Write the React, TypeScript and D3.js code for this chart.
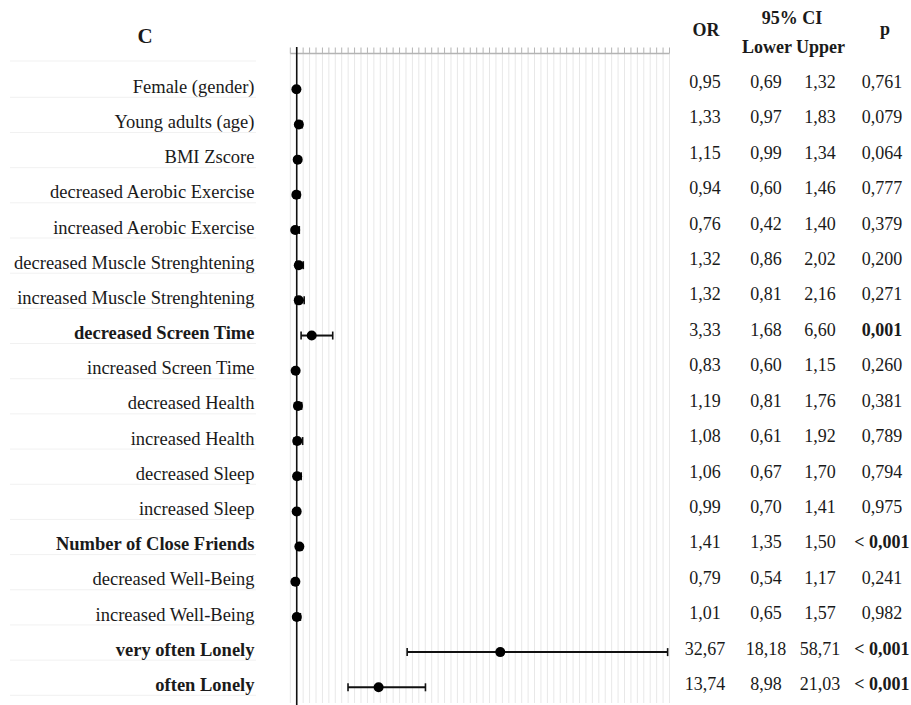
import React from "react";
import * as d3 from "d3";

const labels = [
  "Female (gender)",
  "Young adults (age)",
  "BMI Zscore",
  "decreased Aerobic Exercise",
  "increased Aerobic Exercise",
  "decreased Muscle Strenghtening",
  "increased Muscle Strenghtening",
  "decreased Screen Time",
  "increased Screen Time",
  "decreased Health",
  "increased Health",
  "decreased Sleep",
  "increased Sleep",
  "Number of Close Friends",
  "decreased Well-Being",
  "increased Well-Being",
  "very often Lonely",
  "often Lonely",
];
const orValues = [0.95, 1.33, 1.15, 0.94, 0.76, 1.32, 1.32, 3.33, 0.83, 1.19, 1.08, 1.06, 0.99, 1.41, 0.79, 1.01, 32.67, 13.74];
const lowerValues = [0.69, 0.97, 0.99, 0.6, 0.42, 0.86, 0.81, 1.68, 0.6, 0.81, 0.61, 0.67, 0.7, 1.35, 0.54, 0.65, 18.18, 8.98];
const upperValues = [1.32, 1.83, 1.34, 1.46, 1.4, 2.02, 2.16, 6.6, 1.15, 1.76, 1.92, 1.7, 1.41, 1.5, 1.17, 1.57, 58.71, 21.03];
const pLabels = ["0,761", "0,079", "0,064", "0,777", "0,379", "0,200", "0,271", "0,001", "0,260", "0,381", "0,789", "0,794", "0,975", "< 0,001", "0,241", "0,982", "< 0,001", "< 0,001"];
const significant = [false, false, false, false, false, false, false, true, false, false, false, false, false, true, false, false, true, true];
const axisTicks = d3.range(0, 60);
const referenceOR = 1;

const fmt = (v: number) => v.toFixed(2).replace(".", ",");

export default function App() {
  const W = 911;
  const H = 705;
  const x = d3.scaleLinear().domain([0, 59]).range([290.3, 669.5]);
  const y = d3.scalePoint<string>().domain(labels).range([89.3, 687.3]);
  const yText = d3.scalePoint<string>().domain(labels).range([88, 690]);
  const axisY = 53.5;
  const font = "'Liberation Serif', 'Times New Roman', serif";
  const colOR = 705;
  const colLo = 766;
  const colUp = 820;
  const colP = 882;
  const ink = "#1a1a1a";

  return (
    <svg
      width={W}
      height={H}
      style={{ position: "absolute", left: 0, top: 0, background: "#fff" }}
      fontFamily={font}
    >
      {/* faint table separators in label column */}
      <line x1={10} x2={256} y1={61} y2={61} stroke="#f1f1f1" />
      {labels.map((l, i) => (
        <line key={"sep" + i} x1={10} x2={256} y1={(y(l) as number) + 8} y2={(y(l) as number) + 8} stroke="#f1f1f1" strokeWidth={1} />
      ))}

      {/* gridlines */}
      {axisTicks.map((t) => (
        <line key={"g" + t} x1={x(t)} x2={x(t)} y1={axisY} y2={703} stroke="#e8e8e8" strokeWidth={1} />
      ))}
      {/* axis */}
      <line x1={x(0)} x2={x(59)} y1={axisY} y2={axisY} stroke="#b4b4b4" strokeWidth={1.5} />
      {axisTicks.map((t) => (
        <line key={"t" + t} x1={x(t)} x2={x(t)} y1={axisY} y2={axisY - 6} stroke="#b4b4b4" strokeWidth={1} />
      ))}
      {/* reference line */}
      <line x1={x(referenceOR)} x2={x(referenceOR)} y1={47} y2={705} stroke="#111" strokeWidth={1.6} />

      {/* CI and points */}
      {labels.map((l, i) => {
        const cy = y(l) as number;
        return (
          <g key={"m" + i}>
            <line x1={x(lowerValues[i])} x2={x(upperValues[i])} y1={cy} y2={cy} stroke="#111" strokeWidth={2} />
            <line x1={x(lowerValues[i])} x2={x(lowerValues[i])} y1={cy - 4} y2={cy + 4} stroke="#111" strokeWidth={1.6} />
            <line x1={x(upperValues[i])} x2={x(upperValues[i])} y1={cy - 4} y2={cy + 4} stroke="#111" strokeWidth={1.6} />
            <circle cx={x(orValues[i])} cy={cy} r={5} fill="#000" />
          </g>
        );
      })}

      {/* labels */}
      {labels.map((l, i) => (
        <text
          key={"l" + i}
          x={254.5}
          y={(y(l) as number) + 3.6}
          textAnchor="end"
          fontSize={18.5}
          fontWeight={significant[i] ? "bold" : "normal"}
          fill={ink}
        >
          {l}
        </text>
      ))}

      {/* headers */}
      <text x={145} y={43} textAnchor="middle" fontSize={21} fontWeight="bold" fill={ink}>C</text>
      <text x={706} y={36} textAnchor="middle" fontSize={18} fontWeight="bold" fill={ink}>OR</text>
      <text x={792} y={24} textAnchor="middle" fontSize={18} fontWeight="bold" fill={ink}>95% CI</text>
      <text x={793.5} y={53} textAnchor="middle" fontSize={18} fontWeight="bold" fill={ink}>Lower Upper</text>
      <text x={885} y={35} textAnchor="middle" fontSize={18} fontWeight="bold" fill={ink}>p</text>

      {/* value columns */}
      {labels.map((l, i) => {
        const by = yText(l) as number;
        return (
          <g key={"v" + i} fontSize={18} fill={ink}>
            <text x={colOR} y={by} textAnchor="middle">{fmt(orValues[i])}</text>
            <text x={colLo} y={by} textAnchor="middle">{fmt(lowerValues[i])}</text>
            <text x={colUp} y={by} textAnchor="middle">{fmt(upperValues[i])}</text>
            <text x={colP} y={by} textAnchor="middle" fontWeight={significant[i] ? "bold" : "normal"}>{pLabels[i]}</text>
          </g>
        );
      })}
    </svg>
  );
}
